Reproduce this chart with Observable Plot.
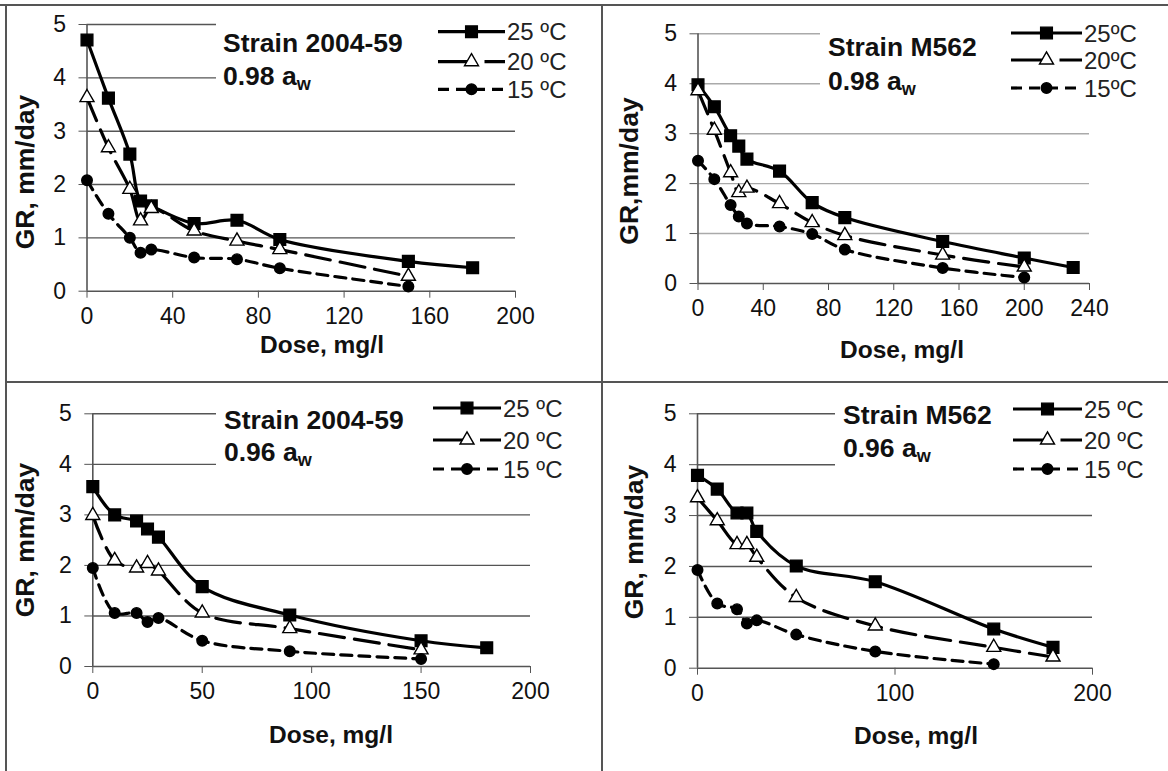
<!DOCTYPE html>
<html>
<head>
<meta charset="utf-8">
<script src="https://cdn.jsdelivr.net/npm/d3@7"></script>
<script src="https://cdn.jsdelivr.net/npm/@observablehq/plot@0.6"></script>
<style>
  body { margin: 0; background: #fff; }
  #root { position: relative; width: 1168px; height: 771px; background: #fff; overflow: hidden; font-family: 'Liberation Sans', Arial, sans-serif; color: #111; }
  .abs { position: absolute; white-space: nowrap; }
</style>
</head>
<body>
<div id="root"></div>
<script>
// ---------- data ----------
const yTicks = [0, 1, 2, 3, 4, 5];
const xTicksA = [0, 40, 80, 120, 160, 200];
const xTicksB = [0, 40, 80, 120, 160, 200, 240];
const xTicksC = [0, 50, 100, 150, 200];
const xTicksD = [0, 100, 200];

// Panel A: Strain 2004-59, 0.98 aw
const doseA25 = [0, 10, 20, 25, 30, 50, 70, 90, 150, 180];
const grA25   = [4.71, 3.62, 2.57, 1.69, 1.6, 1.27, 1.33, 0.97, 0.56, 0.44];
const doseA20 = [0, 10, 20, 25, 30, 50, 70, 90, 150];
const grA20   = [3.63, 2.69, 1.91, 1.32, 1.55, 1.13, 0.94, 0.78, 0.28];
const doseA15 = [0, 10, 20, 25, 30, 50, 70, 90, 150];
const grA15   = [2.08, 1.45, 1.0, 0.72, 0.78, 0.63, 0.6, 0.43, 0.09];

// Panel B: Strain M562, 0.98 aw
const doseB25 = [0, 10, 20, 25, 30, 50, 70, 90, 150, 200, 230];
const grB25   = [3.98, 3.54, 2.96, 2.75, 2.49, 2.25, 1.62, 1.32, 0.84, 0.51, 0.32];
const doseB20 = [0, 10, 20, 25, 30, 50, 70, 90, 150, 200];
const grB20   = [3.86, 3.07, 2.22, 1.82, 1.91, 1.6, 1.22, 0.96, 0.57, 0.33];
const doseB15 = [0, 10, 20, 25, 30, 50, 70, 90, 150, 200];
const grB15   = [2.46, 2.09, 1.57, 1.34, 1.2, 1.14, 0.99, 0.68, 0.31, 0.12];

// Panel C: Strain 2004-59, 0.96 aw
const doseC25 = [0, 10, 20, 25, 30, 50, 90, 150, 180];
const grC25   = [3.56, 3.0, 2.88, 2.72, 2.56, 1.58, 1.02, 0.51, 0.37];
const doseC20 = [0, 10, 20, 25, 30, 50, 90, 150];
const grC20   = [2.99, 2.1, 1.95, 2.04, 1.89, 1.06, 0.75, 0.33];
const doseC15 = [0, 10, 20, 25, 30, 50, 90, 150];
const grC15   = [1.95, 1.06, 1.06, 0.88, 0.96, 0.51, 0.3, 0.15];

// Panel D: Strain M562, 0.96 aw
const doseD25 = [0, 10, 20, 25, 30, 50, 90, 150, 180];
const grD25   = [3.79, 3.52, 3.05, 3.05, 2.69, 2.01, 1.7, 0.77, 0.41];
const doseD20 = [0, 10, 20, 25, 30, 50, 90, 150, 180];
const grD20   = [3.35, 2.9, 2.43, 2.43, 2.18, 1.39, 0.83, 0.41, 0.22];
const doseD15 = [0, 10, 20, 25, 30, 50, 90, 150];
const grD15   = [1.93, 1.27, 1.16, 0.88, 0.94, 0.66, 0.33, 0.08];

const legendA = ["25 ºC", "20 ºC", "15 ºC"];
const legendB = ["25ºC", "20ºC", "15ºC"];

// ---------- styling ----------
const FONT = "'Liberation Sans', Arial, sans-serif";
const seriesStyle = {
  25: {dash: null, sw: 3.2, symbol: "square", r: 6.6, fill: "#000"},
  20: {dash: "25,10", sw: 3.2, symbol: "triangle", r: 5.2, fill: "#fff"},
  15: {dash: "11,7", sw: 3.2, symbol: "circle", r: 5.3, fill: "#000"}
};

const root = document.getElementById("root");

function rows(xs, ys) { return xs.map((d, i) => ({dose: d, gr: ys[i]})); }

function panel(cfg) {
  const {left, top, width, height, x0, x1, y0, y5, xMax, xTicks, series, grid, axisColor} = cfg;
  const marks = [
    Plot.ruleY(yTicks.filter(d => d > 0), {stroke: grid, strokeWidth: 1.4}),
    Plot.axisY({ticks: yTicks, tickSize: 8, tickPadding: 13, fontSize: 23, stroke: axisColor, fill: "#111", label: null, tickFormat: d3.format("d")}),
    Plot.axisX({ticks: xTicks, tickSize: 7, tickPadding: 9, fontSize: 23, stroke: axisColor, fill: "#111", label: null, tickFormat: d3.format("d")}),
    Plot.ruleY([0], {stroke: axisColor, strokeWidth: 1.6}),
    Plot.ruleX([0], {stroke: axisColor, strokeWidth: 1.6})
  ];
  for (const [temp, data] of series) {
    const s = seriesStyle[temp];
    marks.push(Plot.line(data, {x: "dose", y: "gr", curve: "catmull-rom", stroke: "#000", strokeWidth: s.sw, strokeDasharray: s.dash, strokeLinejoin: "round"}));
    marks.push(Plot.dot(data, {x: "dose", y: "gr", symbol: s.symbol, r: s.r, fill: s.fill, stroke: "#000", strokeWidth: 1.4}));
  }
  const svg = Plot.plot({
    width, height,
    marginLeft: x0 - left, marginRight: left + width - x1,
    marginTop: y5 - top, marginBottom: top + height - y0,
    x: {domain: [0, xMax]},
    y: {domain: [0, 5]},
    style: {fontFamily: FONT, background: "transparent", overflow: "visible", color: "#111"},
    marks
  });
  svg.style.position = "absolute";
  svg.style.left = left + "px";
  svg.style.top = top + "px";
  svg.style.maxWidth = "none";
  root.appendChild(svg);
}

function text(html, x, yc, size, weight, anchor) {
  const d = document.createElement("div");
  d.className = "abs";
  const lh = Math.round(size * 1.15);
  d.style.fontSize = size + "px";
  d.style.fontWeight = weight;
  d.style.lineHeight = lh + "px";
  d.style.top = (yc - lh / 2) + "px";
  d.style.left = x + "px";
  if (anchor === "middle") d.style.transform = "translateX(-50%)";
  d.innerHTML = html;
  root.appendChild(d);
  return d;
}
function vtext(html, xc, yc, size) {
  const d = document.createElement("div");
  d.className = "abs";
  d.style.fontSize = size + "px";
  d.style.fontWeight = "bold";
  d.style.lineHeight = size + "px";
  d.style.left = xc + "px";
  d.style.top = yc + "px";
  d.style.transform = "translate(-50%,-50%) rotate(-90deg)";
  d.innerHTML = html;
  root.appendChild(d);
}
function whiteBox(x, y, w, h) {
  const d = document.createElement("div");
  d.className = "abs";
  Object.assign(d.style, {left: x + "px", top: y + "px", width: w + "px", height: h + "px", background: "#fff"});
  root.appendChild(d);
}
function legend(xa, xb, ys, labels, size) {
  const svg = d3.select(root).append("svg")
    .attr("width", 1168).attr("height", 771)
    .style("position", "absolute").style("left", 0).style("top", 0).style("overflow", "visible");
  const temps = [25, 20, 15];
  temps.forEach((t, i) => {
    const s = seriesStyle[t];
    const y = ys[i];
    const mid = (xa + xb) / 2;
    const first = mid - xa - 3;
    svg.append("line").attr("x1", xa).attr("x2", xb).attr("y1", y).attr("y2", y)
      .attr("stroke", "#000").attr("stroke-width", s.sw)
      .attr("stroke-dasharray", t === 20 ? `${first},16,60` : s.dash);
    const sym = d3.symbol().type(t === 25 ? d3.symbolSquare : t === 20 ? d3.symbolTriangle : d3.symbolCircle)
      .size(Math.PI * s.r * s.r);
    svg.append("path").attr("d", sym()).attr("transform", `translate(${mid},${y})`)
      .attr("fill", s.fill).attr("stroke", "#000").attr("stroke-width", 1.4);
    svg.append("text").attr("x", xb + 2).attr("y", y).attr("dy", "0.36em")
      .attr("font-family", FONT).attr("font-size", size).attr("fill", "#222").text(labels[i]);
  });
}

// ---------- panels ----------
panel({left: 0, top: 0, width: 600, height: 380, x0: 86.5, x1: 515, y0: 290.7, y5: 24, xMax: 200, xTicks: xTicksA,
  grid: "#555", axisColor: "#555",
  series: [[25, rows(doseA25, grA25)], [20, rows(doseA20, grA20)], [15, rows(doseA15, grA15)]]});
panel({left: 602, top: 0, width: 566, height: 380, x0: 697.5, x1: 1089, y0: 283, y5: 33.3, xMax: 240, xTicks: xTicksB,
  grid: "#aaa", axisColor: "#555",
  series: [[25, rows(doseB25, grB25)], [20, rows(doseB20, grB20)], [15, rows(doseB15, grB15)]]});
panel({left: 0, top: 382, width: 600, height: 389, x0: 92.3, x1: 530, y0: 666, y5: 413.3, xMax: 200, xTicks: xTicksC,
  grid: "#555", axisColor: "#555",
  series: [[25, rows(doseC25, grC25)], [20, rows(doseC20, grC20)], [15, rows(doseC15, grC15)]]});
panel({left: 602, top: 382, width: 566, height: 389, x0: 697, x1: 1092, y0: 667.7, y5: 413.3, xMax: 200, xTicks: xTicksD,
  grid: "#555", axisColor: "#555",
  series: [[25, rows(doseD25, grD25)], [20, rows(doseD20, grD20)], [15, rows(doseD15, grD15)]]});

// text boxes (white background hides gridlines like the original text boxes)
whiteBox(216, 12, 368, 98);
whiteBox(820, 14, 346, 100);
whiteBox(216, 392, 368, 105);
whiteBox(835, 392, 331, 105);

const TS = 26.5;
const SUB = "<sub style='font-size:0.68em;vertical-align:-0.28em'>w</sub>";
text("Strain 2004-59", 223, 43, TS, "bold");
text("0.98 a" + SUB, 223, 76, TS, "bold");
text("Strain M562", 828, 47, TS, "bold");
text("0.98 a" + SUB, 828, 81, TS, "bold");
text("Strain 2004-59", 224, 420, TS, "bold");
text("0.96 a" + SUB, 224, 452, TS, "bold");
text("Strain M562", 843, 415, TS, "bold");
text("0.96 a" + SUB, 843, 448, TS, "bold");

legend(438, 505, [31.7, 61.7, 89.3], legendA, 24);
legend(1011, 1082, [33, 60, 88], legendB, 24);
legend(433, 501, [408, 440, 469], legendA, 24);
legend(1013, 1082, [409, 440, 469], legendA, 24);

// axis titles
vtext("GR, mm/day", 25, 172, 26.5);
vtext("GR,mm/day", 629, 171, 26.5);
vtext("GR, mm/day", 25, 540, 26.5);
vtext("GR, mm/day", 634, 542, 26.5);
const XS = 24.5;
text("Dose, mg/l", 322, 345, XS, "bold", "middle");
text("Dose, mg/l", 902, 350, XS, "bold", "middle");
text("Dose, mg/l", 331, 735, XS, "bold", "middle");
text("Dose, mg/l", 916, 736, XS, "bold", "middle");

// panel frame lines
const frame = d3.select(root).append("svg").attr("width", 1168).attr("height", 771)
  .style("position", "absolute").style("left", 0).style("top", 0);
const frameLines = [[0, 5, 1168, 5], [6, 5, 6, 771], [602, 5, 602, 771], [6, 382, 1168, 382]];
frame.selectAll("line").data(frameLines).join("line")
  .attr("x1", d => d[0]).attr("y1", d => d[1]).attr("x2", d => d[2]).attr("y2", d => d[3])
  .attr("stroke", "#555").attr("stroke-width", 2);
</script>
</body>
</html>
